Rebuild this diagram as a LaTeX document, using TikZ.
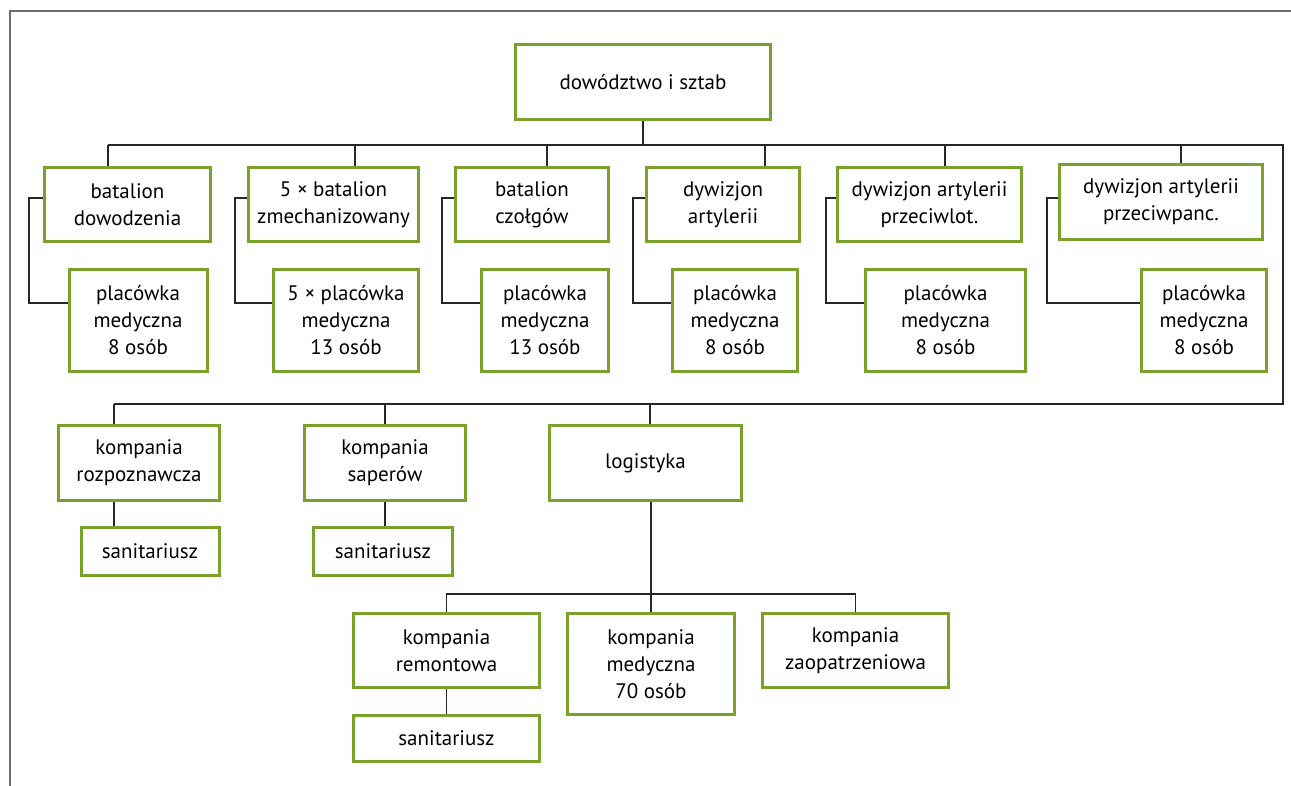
\documentclass[tikz,border=0pt]{standalone}
\usepackage{fontspec}
\setmainfont{PT Sans}
\definecolor{unitgreen}{HTML}{7AA22A}
\definecolor{framegray}{HTML}{6E6E6E}
\tikzset{
  unit/.style={draw=unitgreen, line width=3pt, align=center, inner sep=2pt,
    font=\fontsize{21}{27}\selectfont},
  conn/.style={draw=black!85, line width=1.3pt},
}
\begin{document}
\begin{tikzpicture}[x=1pt, y=-1pt]
    \useasboundingbox (0,0) rectangle (1291,786);
    % Frame, top and left edge only
    \draw[framegray, line width=2pt] (1291,11) -- (10,11) -- (10,786);

    % Command
    \node[unit, minimum width=255pt, minimum height=75pt] (top) at (643,82) {dowództwo i sztab};

    % Battalions
    \node[unit, minimum width=166pt, minimum height=74pt] (b1) at (127.5,204.5) {batalion\\dowodzenia};
    \node[unit, minimum width=170pt, minimum height=74pt] (b2) at (333.5,204.5) {5 × batalion\\zmechanizowany};
    \node[unit, minimum width=153pt, minimum height=74pt] (b3) at (532,204.5) {batalion\\czołgów};
    \node[unit, minimum width=153pt, minimum height=74pt] (b4) at (723,204.5) {dywizjon\\artylerii};
    \node[unit, minimum width=184pt, minimum height=74pt] (b5) at (929.5,204.5) {dywizjon artylerii\\przeciwlot.};
    \node[unit, minimum width=203pt, minimum height=75pt] (b6) at (1161,202) {dywizjon artylerii\\przeciwpanc.};

    % Medical posts
    \node[unit, minimum width=138pt, minimum height=102pt] (m1) at (138,320.5) {placówka\\medyczna\\8 osób};
    \node[unit, minimum width=145pt, minimum height=102pt] (m2) at (346,320.5) {5 × placówka\\medyczna\\13 osób};
    \node[unit, minimum width=127pt, minimum height=102pt] (m3) at (545,320.5) {placówka\\medyczna\\13 osób};
    \node[unit, minimum width=125pt, minimum height=102pt] (m4) at (735,320.5) {placówka\\medyczna\\8 osób};
    \node[unit, minimum width=160pt, minimum height=102pt] (m5) at (945.5,320.5) {placówka\\medyczna\\8 osób};
    \node[unit, minimum width=125pt, minimum height=102pt] (m6) at (1204,320.5) {placówka\\medyczna\\8 osób};

    % Companies
    \node[unit, minimum width=161pt, minimum height=75pt] (k1) at (139,463) {kompania\\rozpoznawcza};
    \node[unit, minimum width=161pt, minimum height=75pt] (k2) at (385,463) {kompania\\saperów};
    \node[unit, minimum width=192pt, minimum height=75pt] (log) at (645.5,463) {logistyka};
    \node[unit, minimum width=138pt, minimum height=48pt] (san1) at (150,551.5) {sanitariusz};
    \node[unit, minimum width=139pt, minimum height=48pt] (san2) at (383,551.5) {sanitariusz};

    % Logistics
    \node[unit, minimum width=186pt, minimum height=74pt] (rem) at (446.5,650.5) {kompania\\remontowa};
    \node[unit, minimum width=167pt, minimum height=101pt] (med) at (651,664) {kompania\\medyczna\\70 osób};
    \node[unit, minimum width=186pt, minimum height=74pt] (zao) at (855.5,650.5) {kompania\\zaopatrzeniowa};
    \node[unit, minimum width=186pt, minimum height=46pt] (san3) at (446.5,738.5) {sanitariusz};

    % Main bus
    \coordinate (cr1) at (1283,145);
    \coordinate (cr2) at (1283,404);
    \foreach \n/\x in {b1/108,b2/355,b3/547,b4/765,b5/945,b6/1181} {
        \coordinate (d\n) at (\x,145);
        \draw[conn] (d\n) -- (d\n |- \n.north);
    }
    \draw[conn] (top.south) -- (top.south |- db1);
    \draw[conn] (db1) -- (cr1) -- (cr2) -- (114,404);

    % Brackets to the medical posts
    \foreach \n/\x in {1/29,2/235,3/442,4/633,5/826,6/1047} {
        \coordinate (s\n) at (\x,198);
        \draw[conn] (b\n.west |- s\n) -- (s\n) |- ([yshift=17.5pt]m\n.west);
    }

    % Lower bus
    \foreach \n/\x in {k1/114,k2/385,log/650} {
        \coordinate (e\n) at (\x,404);
        \draw[conn] (e\n) -- (e\n |- \n.north);
    }
    \draw[conn] (ek1 |- k1.south) -- (ek1 |- san1.north);
    \draw[conn] (ek2 |- k2.south) -- (ek2 |- san2.north);

    % Logistics branch
    \coordinate (sub) at (650,594);
    \draw[conn] (med.north |- log.south) -- (med.north);
    \draw[conn] (rem.north) |- (sub) -| (zao.north);
    \draw[conn] (rem.south) -- (san3.north);
\end{tikzpicture}
\end{document}
